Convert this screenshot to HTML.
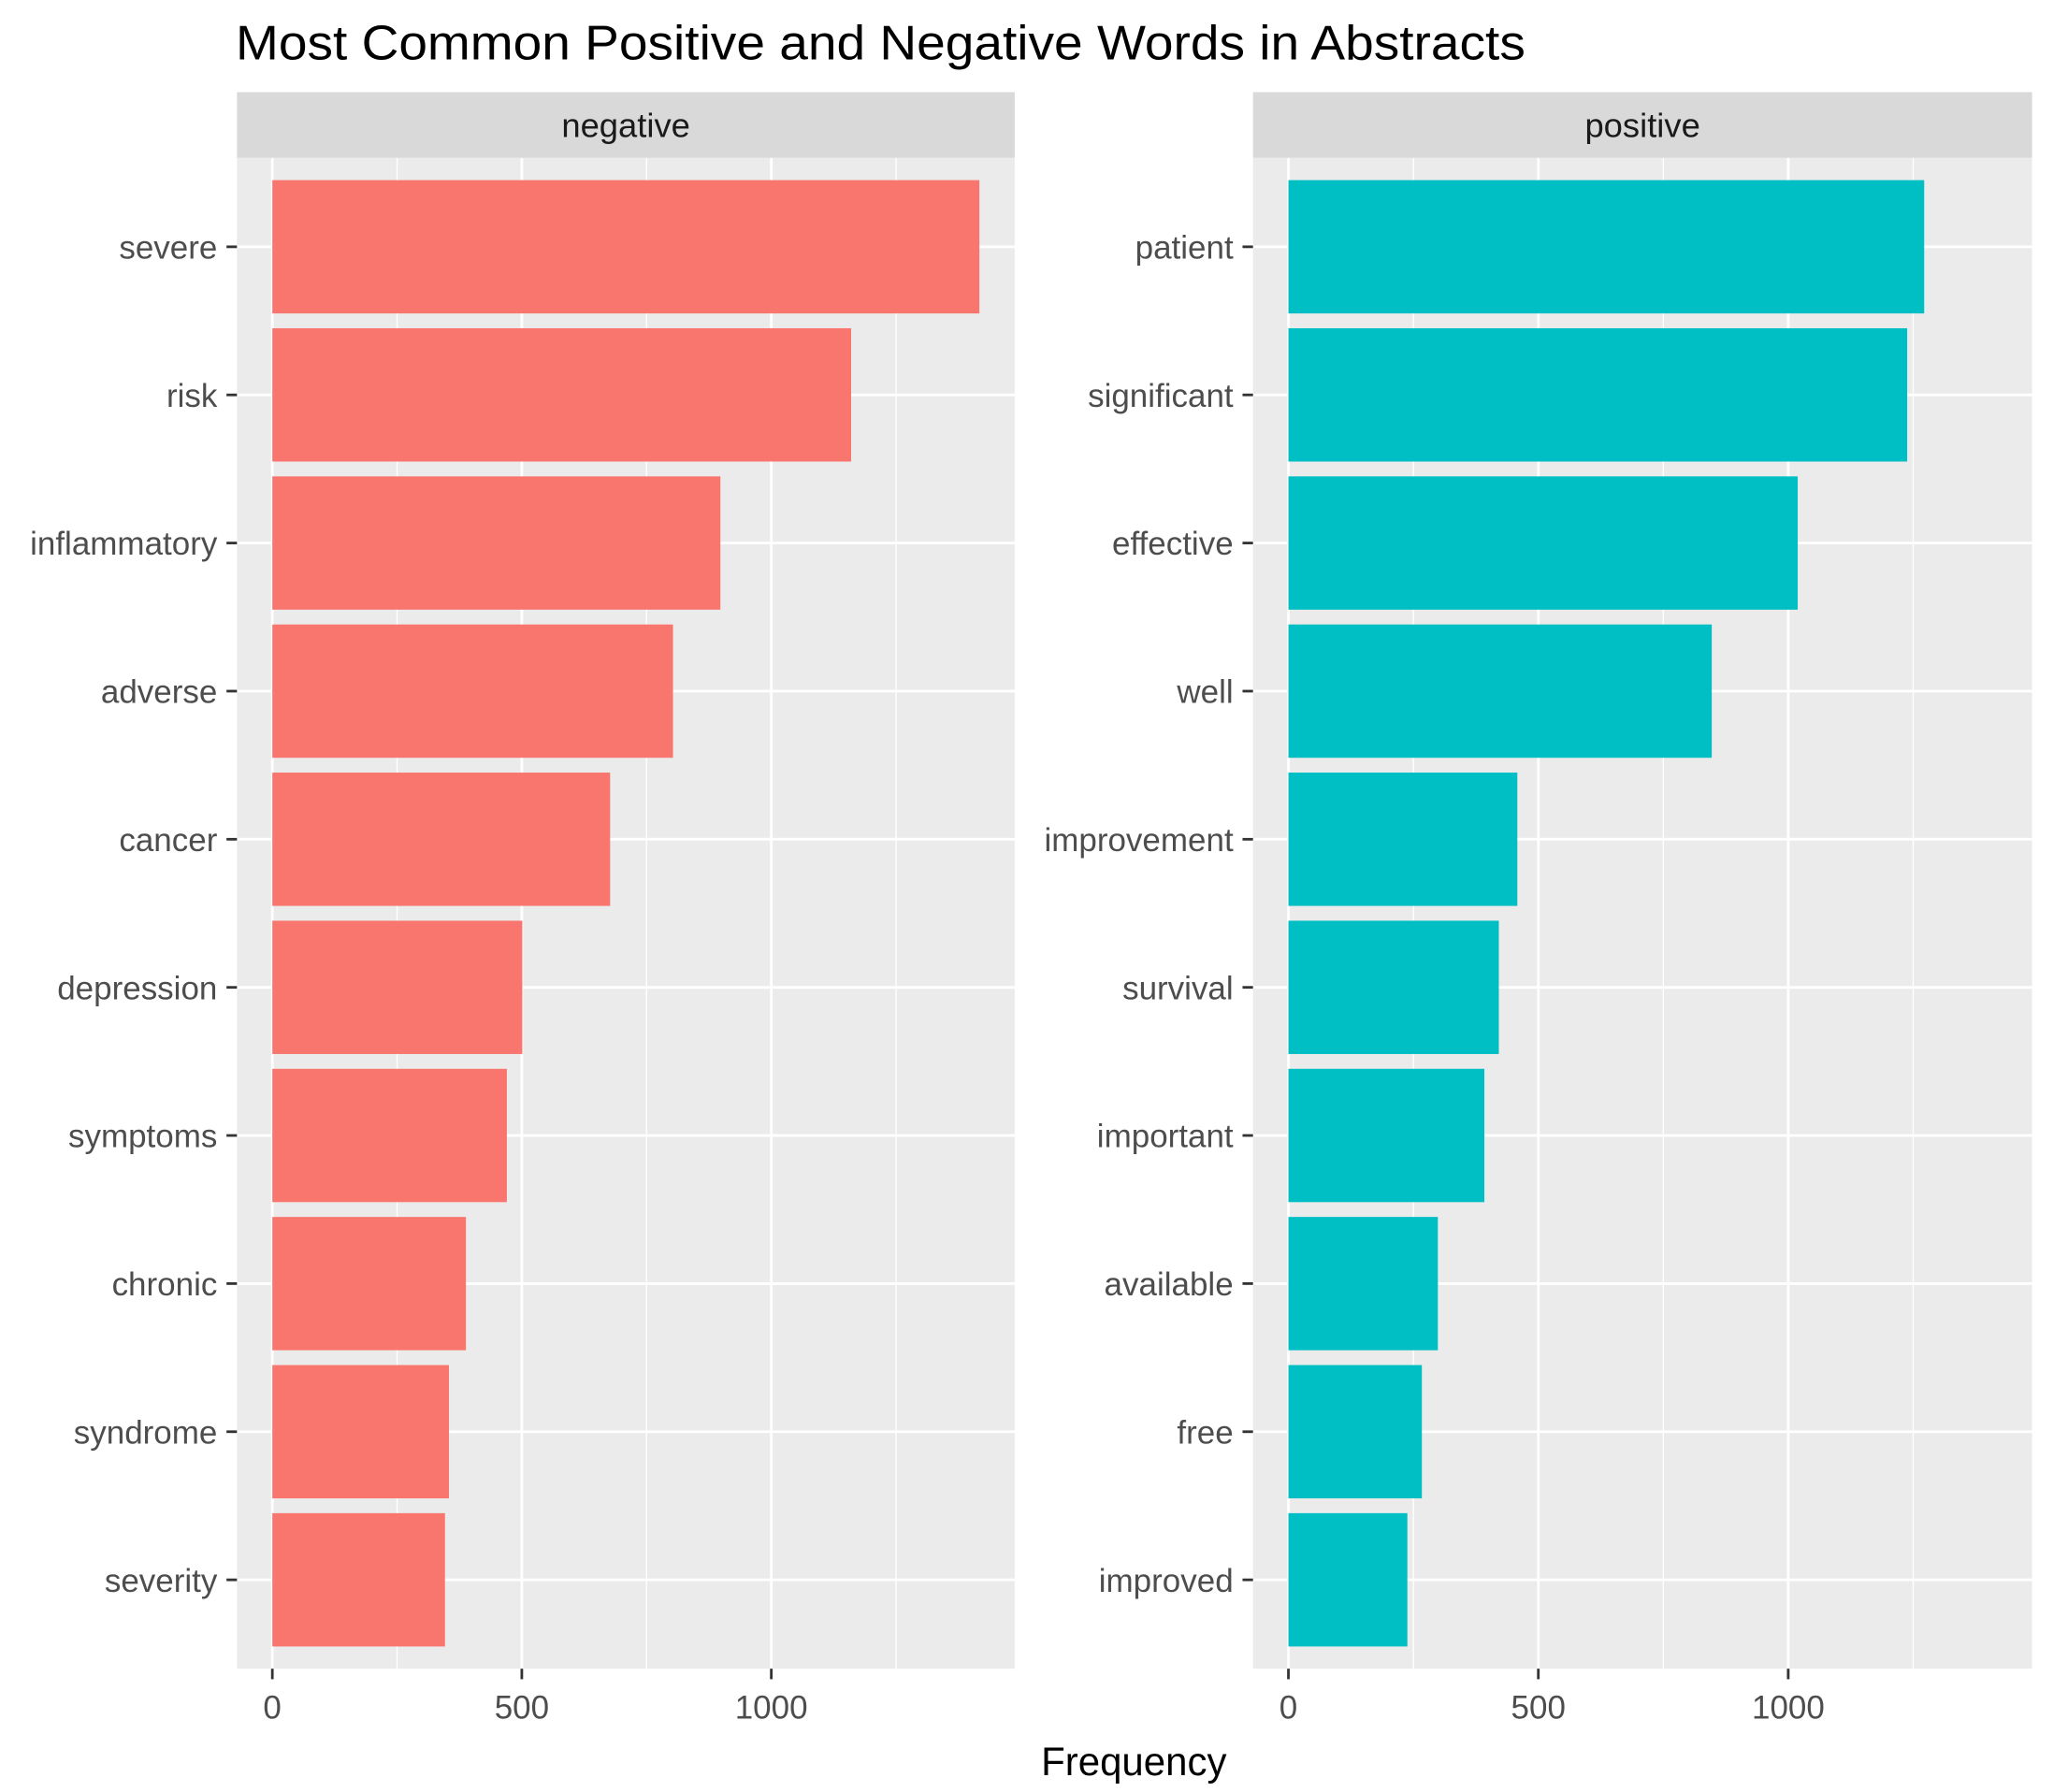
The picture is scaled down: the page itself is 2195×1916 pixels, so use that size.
<!DOCTYPE html>
<html><head><meta charset="utf-8"><style>
html,body{margin:0;padding:0;background:#fff}
svg{display:block;font-family:"Liberation Sans",Arial,sans-serif}
</style></head><body>
<svg id="chart" width="2195" height="1916" viewBox="0 0 1568 1361.7" preserveAspectRatio="none" xmlns="http://www.w3.org/2000/svg">
<text x="180" y="45" font-size="37" textLength="985" lengthAdjust="spacingAndGlyphs" fill="#000">Most Common Positive and Negative Words in Abstracts</text>
<text x="866" y="1349" font-size="30" text-anchor="middle" fill="#000">Frequency</text>
</svg>
<script>
const negWords = ["severe","risk","inflammatory","adverse","cancer","depression","symptoms","chronic","syndrome","severity"];
const negValues = [1417,1160,898,803,677,501,470,388,354,346];
const posWords = ["patient","significant","effective","well","improvement","survival","important","available","free","improved"];
const posValues = [1272,1238,1019,847,458,421,392,299,267,238];
const majorTicks = [0,500,1000];
const majorTickLabels = ["0","500","1000"];
const minorTicks = [250,750,1250];

const NS = "http://www.w3.org/2000/svg";
const svg = document.getElementById('chart');
const maxV = Math.max(...negValues, ...posValues);
const dMin = -0.05*maxV, dMax = 1.05*maxV;
const pTop = 120, pBot = 1268;
function mk(tag, attrs, parent){const e=document.createElementNS(NS,tag);for(const k in attrs)e.setAttribute(k,attrs[k]);(parent||svg).appendChild(e);return e;}

function panel(x0, x1, label, words, values, color, key){
  const g = mk('g',{});
  
  
  const xs = v => x0 + (v - dMin)/(dMax - dMin)*(x1 - x0);
  const n = words.length;
  const step = (pBot - pTop)/(n - 1 + 1.2);
  const ys = i => pTop + (0.6 + i)*step;
  const strip = mk('rect',{x:x0,y:70,width:x1-x0,height:50,fill:'#d9d9d9'},g);
  
  
  const st = mk('text',{x:(x0+x1)/2,y:104,'font-size':26,'text-anchor':'middle',fill:'#1a1a1a'},g);
  st.textContent = label;
  
  
  const bg = mk('rect',{x:x0,y:pTop,width:x1-x0,height:pBot-pTop,fill:'#ebebeb'},g);
  
  
  minorTicks.forEach(t=>{ if(xs(t)<x1){ const l=mk('line',{x1:xs(t),x2:xs(t),y1:pTop,y2:pBot,stroke:'#fff','stroke-width':1},g);
    
    }});
  majorTicks.forEach(t=>{ const l=mk('line',{x1:xs(t),x2:xs(t),y1:pTop,y2:pBot,stroke:'#fff','stroke-width':2},g);
    
    });
  words.forEach((w,i)=>{ const l=mk('line',{x1:x0,x2:x1,y1:ys(i),y2:ys(i),stroke:'#fff','stroke-width':2},g);
    
    });
  const bh = step*0.9;
  words.forEach((w,i)=>{
    const r = mk('rect',{x:xs(0),y:ys(i)-bh/2,width:xs(values[i])-xs(0),height:bh,fill:color},g);
    
    
    const tk = mk('line',{x1:x0-8,x2:x0,y1:ys(i),y2:ys(i),stroke:'#333','stroke-width':2},g);
    
    
    const t = mk('text',{x:x0-15,y:ys(i)+9,'font-size':25,'text-anchor':'end',fill:'#4d4d4d'},g);
    t.textContent = w;
    
    
  });
  majorTicks.forEach((t,i)=>{
    const tk = mk('line',{x1:xs(t),x2:xs(t),y1:pBot,y2:pBot+8,stroke:'#333','stroke-width':2},g);
    
    
    const tl = mk('text',{x:xs(t),y:pBot+38,'font-size':25,'text-anchor':'middle',fill:'#4d4d4d'},g);
    tl.textContent = majorTickLabels[i];
    
    
  });
}
panel(181, 775, 'negative', negWords, negValues, '#f8766d', 'negative');
panel(957, 1552, 'positive', posWords, posValues, '#00bfc4', 'positive');
</script>
</body></html>
